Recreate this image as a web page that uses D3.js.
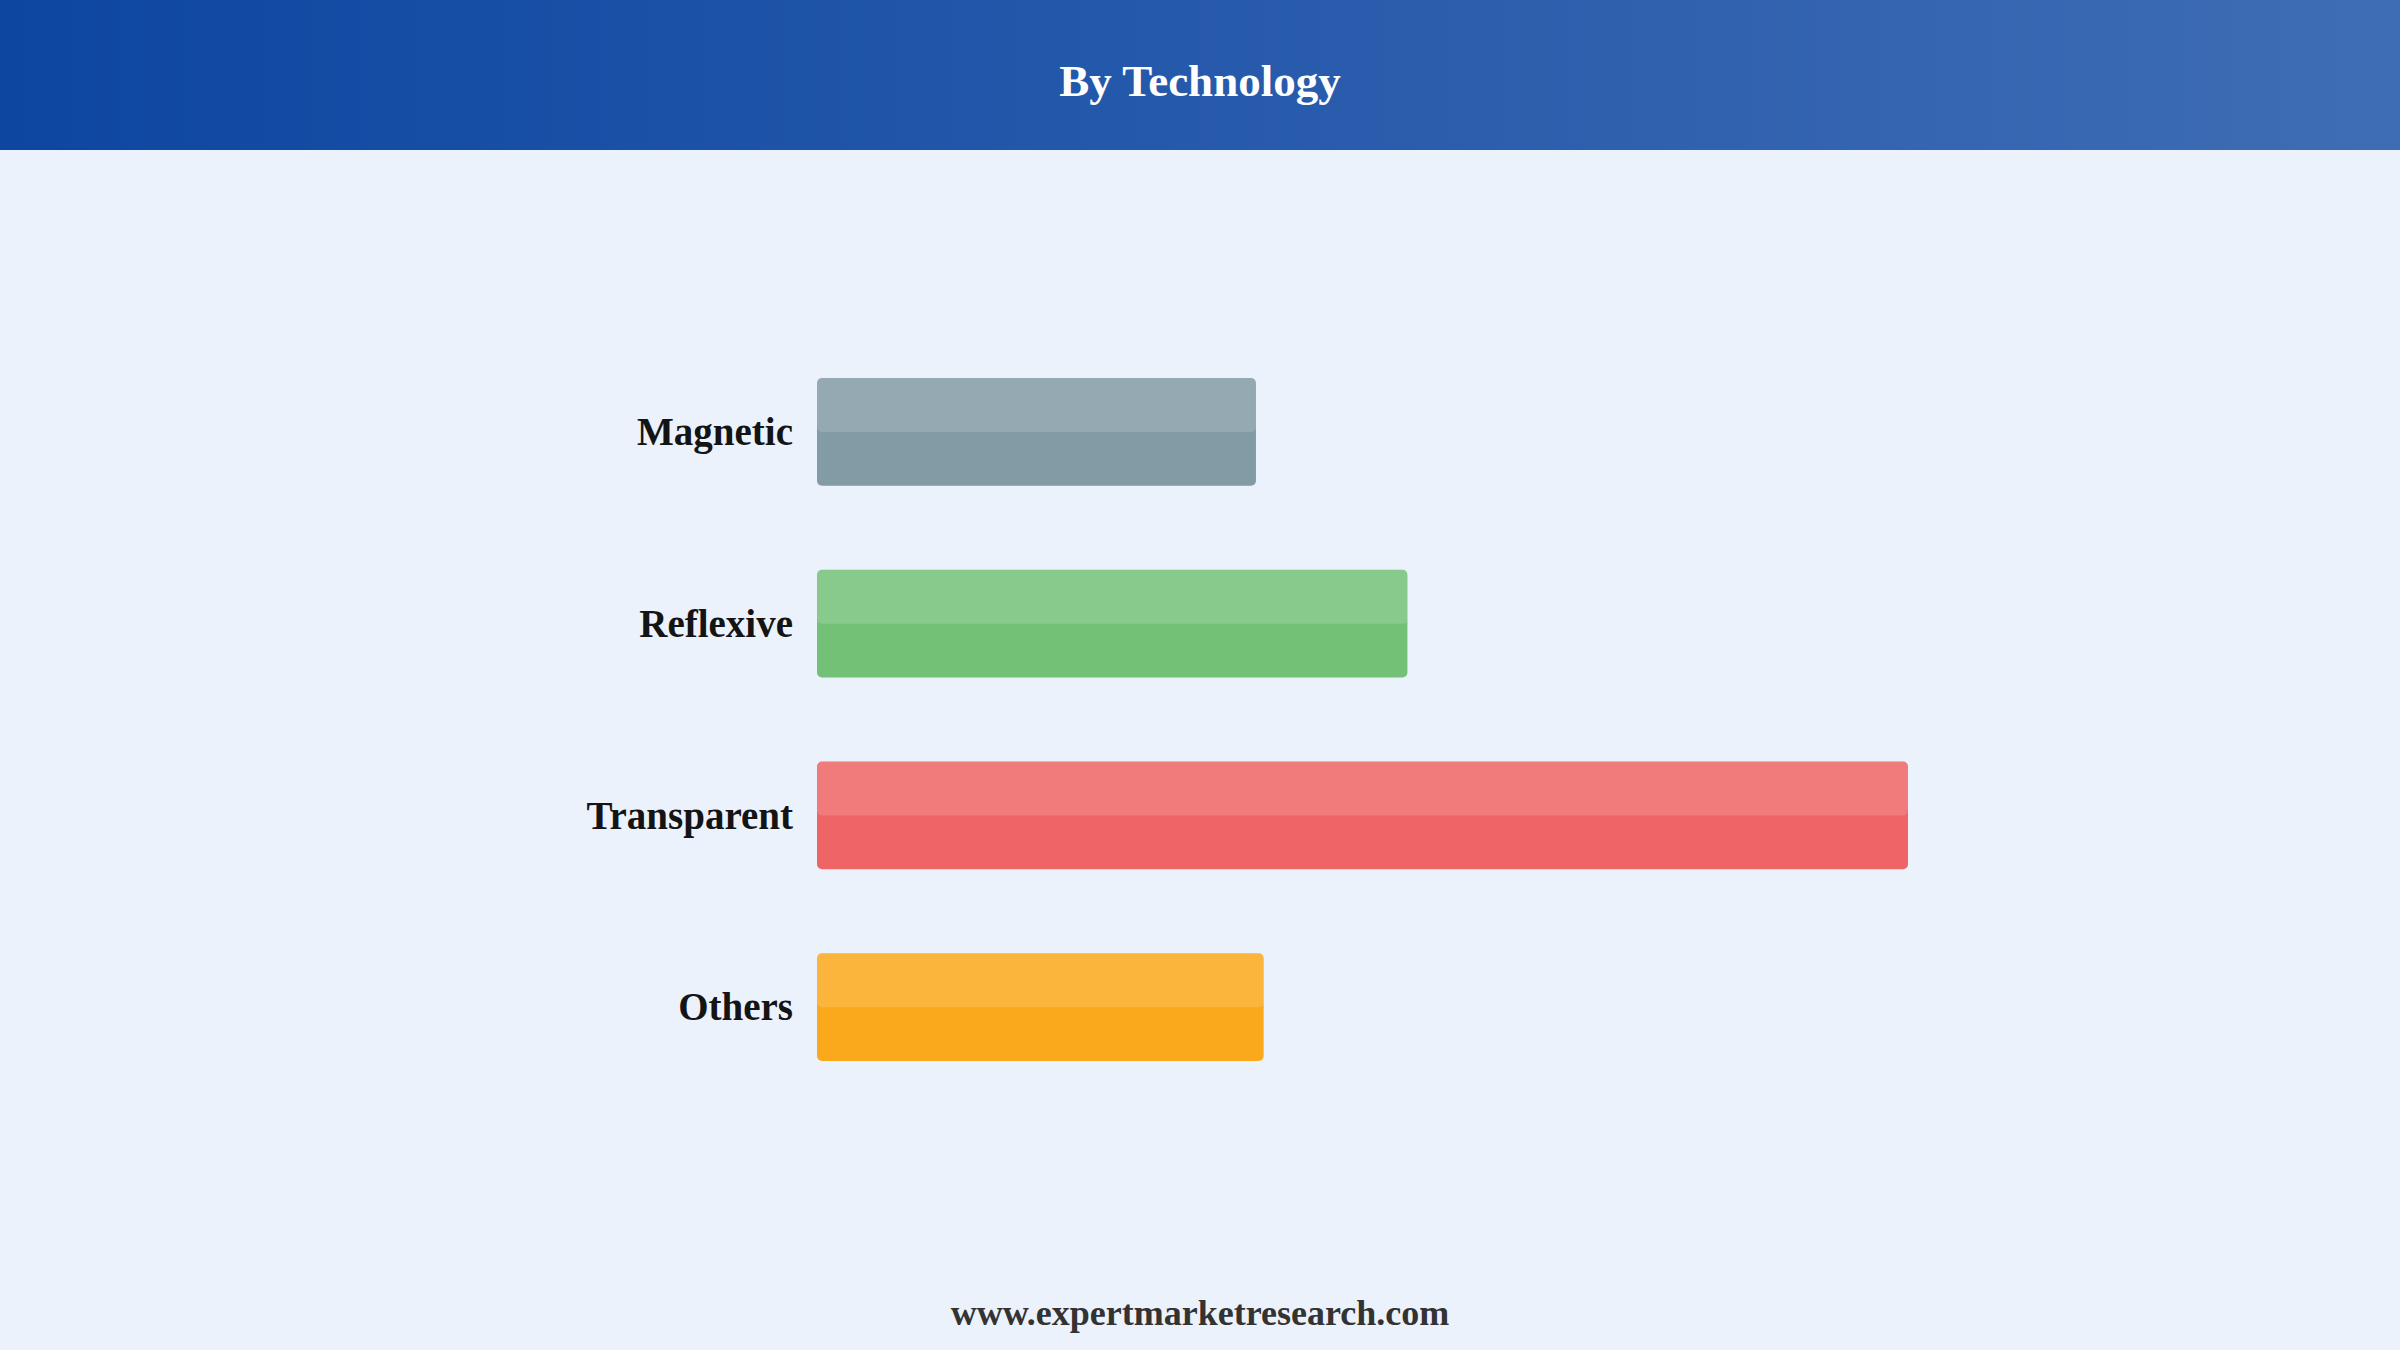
<!DOCTYPE html>
<html>
<head>
<meta charset="utf-8">
<script src="https://cdn.jsdelivr.net/npm/d3@7"></script>
<style>
  html, body { margin: 0; padding: 0; background: #ebf2fc; }
  svg { display: block; }
</style>
</head>
<body>
<svg id="chart" width="2400" height="1350"></svg>
<script>
const categories = ["Magnetic", "Reflexive", "Transparent", "Others"];
const values = [17.1, 23.0, 42.5, 17.4];
const colors = ["#839ba5", "#73c177", "#ef6464", "#fba91c"];
const title = "By Technology";
const footer = "www.expertmarketresearch.com";

const W = 2400, H = 1350;
const svg = d3.select("#chart");

const defs = svg.append("defs");
const grad = defs.append("linearGradient").attr("id", "hdr").attr("x1", "0%").attr("x2", "100%").attr("y1", "0%").attr("y2", "0%");
grad.append("stop").attr("offset", "0%").attr("stop-color", "#0d46a1");
grad.append("stop").attr("offset", "100%").attr("stop-color", "#3f6db5");

svg.append("rect").attr("width", W).attr("height", H).attr("fill", "#ebf2fc");
svg.append("rect").attr("width", W).attr("height", 150).attr("fill", "url(#hdr)");

svg.append("text")
  .attr("x", W / 2).attr("y", 96)
  .attr("text-anchor", "middle")
  .attr("font-family", "'Liberation Serif', 'Times New Roman', serif")
  .attr("font-weight", "bold")
  .attr("font-size", 45)
  .attr("fill", "#ffffff")
  .text(title);

const x = d3.scaleLinear().domain([0, d3.max(values)]).range([817, 1908]);
const y = d3.scaleBand().domain(categories).range([336, 1103]).paddingInner(0.4375).paddingOuter(0.21875);

const g = svg.append("g");
const bars = g.selectAll("g.bar").data(categories).join("g").attr("class", "bar");

bars.append("rect")
  .attr("x", x(0))
  .attr("y", d => y(d))
  .attr("width", (d, i) => x(values[i]) - x(0))
  .attr("height", y.bandwidth())
  .attr("rx", 5).attr("ry", 5)
  .attr("fill", (d, i) => colors[i]);

bars.append("rect")
  .attr("x", x(0))
  .attr("y", d => y(d))
  .attr("width", (d, i) => x(values[i]) - x(0))
  .attr("height", y.bandwidth() / 2)
  .attr("rx", 5).attr("ry", 5)
  .attr("fill", "#ffffff")
  .attr("fill-opacity", 0.15);

bars.append("text")
  .attr("x", x(0) - 24)
  .attr("y", d => y(d) + y.bandwidth() / 2 + 1.5)
  .attr("dy", "0.3em")
  .attr("text-anchor", "end")
  .attr("font-family", "'Liberation Serif', 'Times New Roman', serif")
  .attr("font-weight", "bold")
  .attr("font-size", 39)
  .attr("fill", "#141414")
  .text(d => d);

svg.append("text")
  .attr("x", W / 2).attr("y", 1325)
  .attr("text-anchor", "middle")
  .attr("font-family", "'Liberation Serif', 'Times New Roman', serif")
  .attr("font-weight", "bold")
  .attr("font-size", 36)
  .attr("fill", "#333333")
  .text(footer);
</script>
</body>
</html>
